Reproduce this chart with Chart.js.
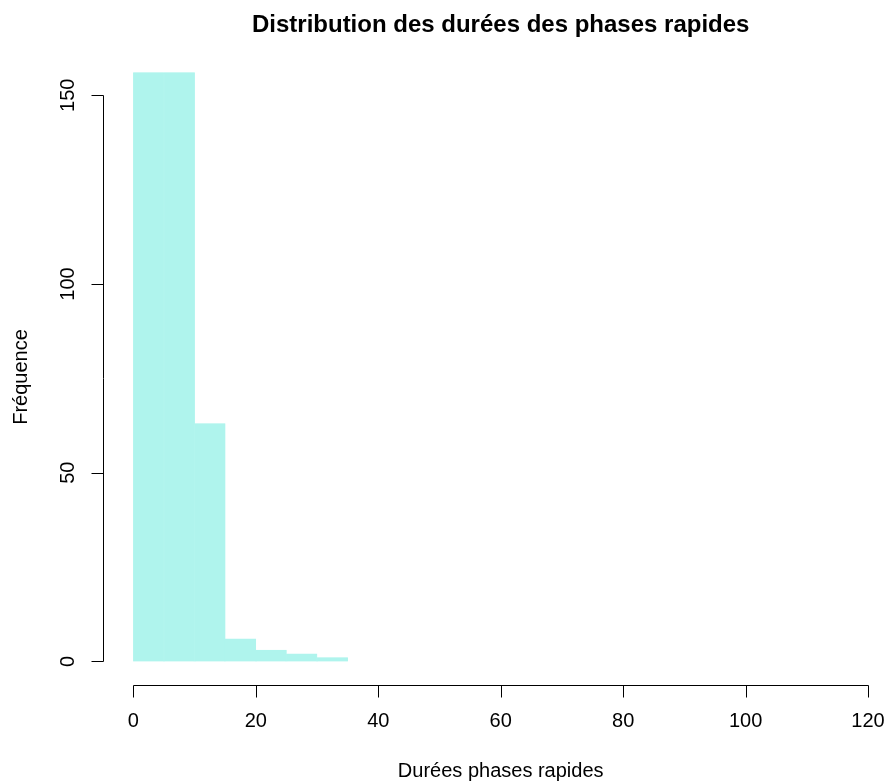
<!DOCTYPE html>
<html>
<head>
<meta charset="utf-8">
<script src="https://cdn.jsdelivr.net/npm/chart.js@4"></script>
<style>
  html, body { margin: 0; padding: 0; background: #fff; overflow: hidden; }
  #wrap { width: 887px; height: 782px; }
</style>
</head>
<body>
<div id="wrap"><canvas id="myChart"></canvas></div>
<script>
// Histogram bins (width 5) and counts
const binCenters = [2.5, 7.5, 12.5, 17.5, 22.5, 27.5, 32.5];
const counts = [156, 156, 63, 6, 3, 2, 1];
const xTicks = [0, 20, 40, 60, 80, 100, 120];
const yTicks = [0, 50, 100, 150];

const titleText = 'Distribution des durées des phases rapides';
const xTitle = 'Durées phases rapides';
const yTitle = 'Fréquence';

const font = '"Liberation Sans", Arial, sans-serif';

// R-style axes drawn with the chart's own scales
const rAxes = {
    id: 'rAxes',
    afterDraw(chart) {
        const ctx = chart.ctx;
        const xs = chart.scales.x;
        const ys = chart.scales.y;
        const area = chart.chartArea;
        ctx.save();
        ctx.strokeStyle = '#000';
        ctx.fillStyle = '#000';
        ctx.lineWidth = 1;

        // y axis
        const ax = Math.round(area.left) - 0.5;
        ctx.beginPath();
        ctx.moveTo(ax, Math.round(ys.getPixelForValue(yTicks[0])) + 0.5);
        ctx.lineTo(ax, Math.round(ys.getPixelForValue(yTicks[yTicks.length - 1])) + 0.5);
        yTicks.forEach(v => {
            const py = Math.round(ys.getPixelForValue(v)) + 0.5;
            ctx.moveTo(ax, py);
            ctx.lineTo(ax - 12, py);
        });
        ctx.stroke();
        ctx.font = '20px ' + font;
        ctx.textAlign = 'center';
        ctx.textBaseline = 'middle';
        yTicks.forEach(v => {
            ctx.save();
            ctx.translate(68, ys.getPixelForValue(v));
            ctx.rotate(-Math.PI / 2);
            ctx.fillText(String(v), 0, 0);
            ctx.restore();
        });

        // x axis
        const ay = Math.round(area.bottom) + 0.5;
        ctx.beginPath();
        ctx.moveTo(Math.round(xs.getPixelForValue(xTicks[0])) + 0.5, ay);
        ctx.lineTo(Math.round(xs.getPixelForValue(xTicks[xTicks.length - 1])) + 0.5, ay);
        xTicks.forEach(v => {
            const px = Math.round(xs.getPixelForValue(v)) + 0.5;
            ctx.moveTo(px, ay);
            ctx.lineTo(px, ay + 12);
        });
        ctx.stroke();
        ctx.textBaseline = 'middle';
        xTicks.forEach(v => {
            ctx.fillText(String(v), xs.getPixelForValue(v), 721);
        });

        // axis titles
        const midX = (xs.getPixelForValue(xTicks[0]) + xs.getPixelForValue(xTicks[xTicks.length - 1])) / 2;
        ctx.fillText(xTitle, midX, 771);
        ctx.save();
        ctx.translate(21, (area.top + area.bottom) / 2 + 10);
        ctx.rotate(-Math.PI / 2);
        ctx.fillText(yTitle, 0, 0);
        ctx.restore();

        // main title
        ctx.font = 'bold 24px ' + font;
        ctx.fillText(titleText, midX, 25);
        ctx.restore();
    }
};

const data = {
    datasets: [{
        label: 'Fréquence',
        data: binCenters.map((c, i) => ({ x: c, y: counts[i] })),
        backgroundColor: '#AFF4ED',
        borderColor: '#AFF4ED',
        borderWidth: 0.5,
        barPercentage: 1,
        categoryPercentage: 1
    }]
};

const config = {
    type: 'bar',
    data: data,
    options: {
        responsive: true,
        maintainAspectRatio: false,
        animation: false,
        layout: {
            padding: { left: 104, right: 0, top: 49, bottom: 97 }
        },
        plugins: {
            legend: { display: false },
            tooltip: { enabled: false },
            title: { display: false }
        },
        scales: {
            x: {
                type: 'linear',
                display: false,
                offset: false,
                grid: { offset: false },
                min: -4.8,
                max: 123.1,
                ticks: { stepSize: 20 }
            },
            y: {
                display: false,
                min: -6.24,
                max: 162.24,
                ticks: { stepSize: 50 }
            }
        }
    },
    plugins: [rAxes]
};

const myChart = new Chart(document.getElementById('myChart'), config);
</script>
</body>
</html>
